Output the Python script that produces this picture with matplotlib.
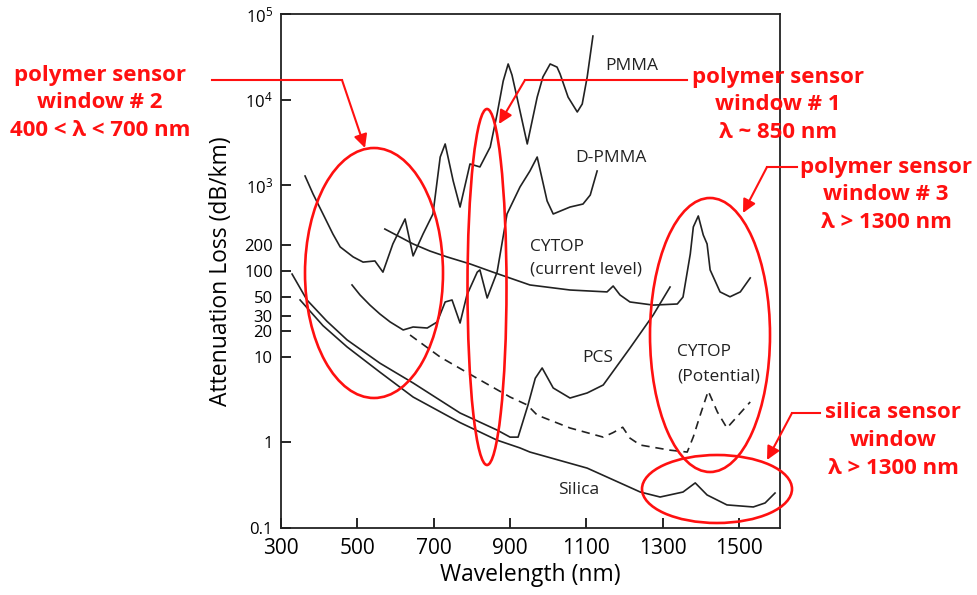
import matplotlib
matplotlib.use("Agg")
import matplotlib.pyplot as plt
import matplotlib.transforms as mtransforms
from matplotlib.patches import Ellipse
from matplotlib.lines import Line2D

plt.rcParams['font.family'] = ['Open Sans', 'DejaVu Sans']
plt.rcParams['mathtext.fontset'] = 'custom'
plt.rcParams['mathtext.rm'] = 'Open Sans'
plt.rcParams['mathtext.default'] = 'regular'

# --- attenuation spectra (wavelength in nm, loss in dB/km) ---
pmma_nm = [363, 384, 410, 436, 455, 489, 515, 546, 567, 593, 625, 646, 672, 698, 717,
           730, 751, 769, 795, 821, 848, 866, 882, 895, 905, 918, 945, 971, 986, 1005,
           1023, 1031, 1052, 1076, 1089, 1102, 1117]
pmma_loss = [1285, 792, 463, 270, 191, 146, 127, 131, 97, 207, 405, 150, 270, 463, 2140,
             3040, 1125, 558, 1775, 1640, 2800, 6800, 16500, 26100, 19400, 10700, 3040,
             10700, 18400, 26100, 24000, 19950, 10700, 7180, 8900, 18400, 55300]

dpmma_nm = [486, 507, 533, 559, 586, 620, 646, 683, 709, 730, 748, 769, 787, 814, 821,
            840, 866, 892, 926, 952, 971, 997, 1013, 1057, 1091, 1110, 1128]
dpmma_loss = [68.7, 52.5, 40, 31.5, 25.4, 20.5, 22.2, 21.6, 25.4, 43.5, 45.9, 24.7, 52.5,
              97, 103, 48.4, 97, 463, 957, 1470, 2140, 657, 463, 558, 605, 771, 1470]

cytop_cur_nm = [572, 646, 690, 735, 795, 855, 952, 1057, 1154, 1170, 1188, 1214, 1275,
                1338, 1353, 1372, 1380, 1393, 1406, 1416, 1424, 1450, 1476, 1503, 1529]
cytop_cur_loss = [309, 207, 171, 146, 121, 97, 68.7, 60, 57, 66.8, 52.5, 43.5, 40,
                  41.2, 49.7, 158, 327, 439, 263, 207, 103, 57, 50, 57, 83]

cytop_pot_nm = [638, 717, 821, 900, 945, 971, 1057, 1144, 1170, 1195, 1214, 1241,
                1319, 1364, 1380, 1398, 1419, 1443, 1468, 1529]
cytop_pot_loss = [17.9, 9.9, 5.35, 3.38, 2.73, 2.08, 1.47, 1.15, 1.3, 1.5, 1.12, 0.93,
                  0.81, 0.77, 1.16, 2.08, 3.97, 2.26, 1.47, 2.96]

pcs_nm = [329, 368, 420, 473, 559, 646, 769, 866, 900, 921, 947, 966, 984, 1013, 1057,
          1102, 1144, 1214, 1275, 1319]
pcs_loss = [92, 45.9, 26, 15.7, 8.4, 4.93, 2.2, 1.39, 1.15, 1.15, 2.73, 5.6, 7.38, 4.31,
            3.29, 3.77, 4.67, 12.6, 30.7, 65]

silica_nm = [350, 410, 473, 559, 646, 769, 866, 926, 952, 1102, 1241, 1293, 1353, 1385,
             1416, 1468, 1537, 1568, 1594]
silica_loss = [45.9, 23, 13.0, 6.6, 3.38, 1.7, 1.06, 0.86, 0.77, 0.50, 0.263, 0.230,
               0.263, 0.336, 0.243, 0.186, 0.176, 0.196, 0.256]

x_ticks = [300, 500, 700, 900, 1100, 1300, 1500]
y_ticks = [0.1, 1, 10, 20, 30, 50, 100, 200, 1e3, 1e4, 1e5]
y_ticklabels = ['0.1', '1', '10', '20', '30', '50', '100', '200',
                '10$^{3}$', '10$^{4}$', '10$^{5}$']

W, H = 977, 595
INK = '#222222'
RED = '#ff1010'

fig = plt.figure(figsize=(W / 100, H / 100), dpi=100)
ax = fig.add_axes([281 / W, 67 / H, 499 / W, 514 / H])

ax.set_yscale('log')
ax.set_xlim(300, 1607)
ax.set_ylim(0.1, 1e5)

lw = 1.2
ax.plot(pmma_nm, pmma_loss, color=INK, lw=lw)
ax.plot(dpmma_nm, dpmma_loss, color=INK, lw=lw)
ax.plot(cytop_cur_nm, cytop_cur_loss, color=INK, lw=lw)
ax.plot(cytop_pot_nm, cytop_pot_loss, color=INK, lw=1.2, linestyle=(0, (5, 3.5)))
ax.plot(pcs_nm, pcs_loss, color=INK, lw=lw)
ax.plot(silica_nm, silica_loss, color=INK, lw=lw)

# curve labels
lbl = dict(fontsize=12.5, color=INK, ha='left', va='center')
ax.text(1148, 2.5e4, 'PMMA', **lbl)
ax.text(1070, 2.1e3, 'D-PMMA', **lbl)
ax.text(952, 190, 'CYTOP', **lbl)
ax.text(952, 103, '(current level)', **lbl)
ax.text(1089, 9.7, 'PCS', **lbl)
ax.text(1338, 11.3, 'CYTOP', **lbl)
ax.text(1338, 5.8, '(Potential)', **lbl)
ax.text(1026, 0.28, 'Silica', **lbl)

ax.set_xticks(x_ticks)
ax.set_xticklabels([str(v) for v in x_ticks])
ax.minorticks_off()
ax.set_yticks(y_ticks)
ax.set_yticklabels(y_ticklabels)
ax.tick_params(axis='x', direction='in', length=7, width=1.2, labelsize=15, pad=7)
ax.tick_params(axis='y', direction='in', length=7, width=1.2, labelsize=12, pad=6)
for s in ax.spines.values():
    s.set_linewidth(1.3)
    s.set_color(INK)

ax.set_xlabel('Wavelength (nm)', fontsize=16.5, labelpad=3)
ax.set_ylabel('Attenuation Loss (dB/km)', fontsize=16.5, labelpad=8)

# red call-outs, laid out in pixel space (origin top-left)
px = mtransforms.Affine2D().scale(1 / W, -1 / H).translate(0, 1) + fig.transFigure

ellipses = [(374, 273, 138, 250), (487, 287, 39, 356),
            (710, 335, 120, 274), (717, 489, 150, 68)]
for cx, cy, ew, eh in ellipses:
    fig.patches.append(Ellipse((cx, cy), ew, eh, fill=False, edgecolor=RED,
                               lw=1.9, transform=px, clip_on=False))

leaders = [[(212, 80), (342, 80), (365, 148)],
           [(687, 80), (525, 80), (499, 124)],
           [(797, 167), (767, 167), (743, 213)],
           [(820, 413), (792, 413), (767, 460)]]
for pts in leaders:
    xs = [p[0] for p in pts[:-1]]
    ys = [p[1] for p in pts[:-1]]
    fig.lines.append(Line2D(xs, ys, color=RED, lw=1.5, transform=px))
    fig.add_artist(plt.Annotation('', xy=pts[-1], xytext=pts[-2],
                                  xycoords=px, textcoords=px,
                                  arrowprops=dict(arrowstyle='-|>', color=RED, lw=1.5,
                                                  mutation_scale=20,
                                                  shrinkA=0, shrinkB=0)))

callouts = [
    (100, [75, 102, 130], ['polymer sensor', 'window # 2', '400 < λ < 700 nm']),
    (778, [78, 105, 133], ['polymer sensor', 'window # 1', 'λ ~ 850 nm']),
    (886, [167, 194, 222], ['polymer sensor', 'window # 3', 'λ > 1300 nm']),
    (893, [413, 441, 469], ['silica sensor', 'window', 'λ > 1300 nm']),
]
for cx, ys, lines in callouts:
    for y, s in zip(ys, lines):
        fig.text(cx, y, s, transform=px, ha='center', va='center',
                 fontsize=16, fontweight='bold', color=RED)

fig.savefig('out.png', dpi=100)
